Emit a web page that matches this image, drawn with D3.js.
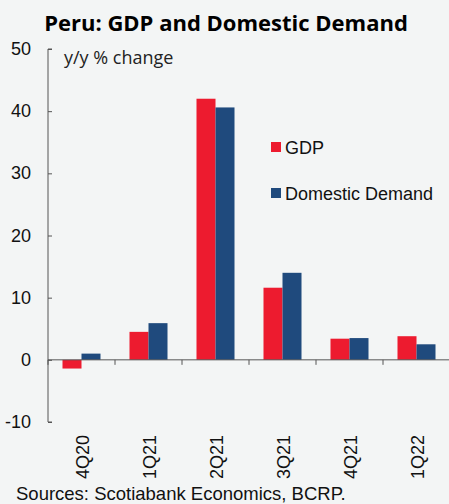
<!DOCTYPE html>
<html>
<head>
<meta charset="utf-8">
<script src="https://cdn.jsdelivr.net/npm/d3@7"></script>
<style>
  body { margin: 0; background: #f3f5f5; }
  svg { display: block; }
</style>
</head>
<body>
<svg id="chart" width="449" height="504"></svg>
<script>
// data
const quarters = ["4Q20", "1Q21", "2Q21", "3Q21", "4Q21", "1Q22"];
const gdp = [-1.4, 4.5, 42.0, 11.6, 3.4, 3.8];
const domestic = [1.0, 5.9, 40.6, 14.0, 3.5, 2.5];
const series_names = ["GDP", "Domestic Demand"];
const y_ticks = [-10, 0, 10, 20, 30, 40, 50];

const colors = ["#ed1b2f", "#1f4a7d"];

const svg = d3.select("#chart");

const x_scale = d3.scaleBand()
    .domain(quarters)
    .range([48, 450]);

const y_scale = d3.scaleLinear()
    .domain([-10, 50])
    .range([422, 49]);

const bar_w = 19;

// title
svg.append("text")
    .attr("x", 226)
    .attr("y", 31)
    .attr("text-anchor", "middle")
    .style("font-family", "Open Sans")
    .style("font-weight", "bold")
    .style("font-size", "22px")
    .text("Peru: GDP and Domestic Demand");

// bars
const series = [gdp, domestic];
series.forEach(function(vals, s) {
    svg.selectAll("rect.s" + s)
        .data(quarters)
        .enter()
        .append("rect")
        .attr("class", "s" + s)
        .attr("x", function(d) { return x_scale(d) + x_scale.bandwidth() / 2 - bar_w + s * bar_w; })
        .attr("y", function(d, i) { return y_scale(Math.max(0, vals[i])); })
        .attr("width", bar_w)
        .attr("height", function(d, i) { return Math.abs(y_scale(vals[i]) - y_scale(0)); })
        .attr("fill", colors[s]);
});

// y axis
const y_axis = svg.append("g")
    .attr("transform", "translate(48,0)")
    .call(d3.axisRight(y_scale).tickValues(y_ticks).tickSize(4).tickFormat(""));
y_axis.select(".domain").attr("stroke", "#555").attr("d", "M4,49H0V422H4");
y_axis.selectAll(".tick line").attr("stroke", "#555");

svg.selectAll("text.ylab")
    .data(y_ticks)
    .enter()
    .append("text")
    .attr("class", "ylab")
    .attr("x", 31)
    .attr("y", function(d) { return y_scale(d) + 6; })
    .attr("text-anchor", "end")
    .style("font-family", "Liberation Sans")
    .style("font-size", "18px")
    .attr("fill", "#111")
    .text(function(d) { return d; });

// zero line with category ticks
svg.append("line")
    .attr("x1", 48).attr("x2", 449)
    .attr("y1", y_scale(0)).attr("y2", y_scale(0))
    .attr("stroke", "#555");

svg.selectAll("line.xtick")
    .data(quarters)
    .enter()
    .append("line")
    .attr("class", "xtick")
    .attr("x1", function(d) { return x_scale(d); })
    .attr("x2", function(d) { return x_scale(d); })
    .attr("y1", y_scale(0))
    .attr("y2", y_scale(0) + 5)
    .attr("stroke", "#555");

// x labels
svg.selectAll("text.xlab")
    .data(quarters)
    .enter()
    .append("text")
    .attr("class", "xlab")
    .attr("transform", function(d) {
        return "translate(" + (x_scale(d) + x_scale.bandwidth() / 2 + 7) + ",435) rotate(-90)";
    })
    .attr("text-anchor", "end")
    .style("font-family", "Liberation Sans")
    .style("font-size", "18px")
    .attr("fill", "#111")
    .text(function(d) { return d; });

// axis title
svg.append("text")
    .attr("x", 64)
    .attr("y", 64)
    .style("font-family", "Open Sans")
    .style("font-size", "18px")
    .attr("fill", "#222")
    .text("y/y % change");

// legend
const legend = svg.selectAll("g.legend")
    .data(series_names)
    .enter()
    .append("g")
    .attr("class", "legend")
    .attr("transform", function(d, i) { return "translate(271," + (142 + i * 46) + ")"; });

legend.append("rect")
    .attr("width", 10)
    .attr("height", 10)
    .attr("fill", function(d, i) { return colors[i]; });

legend.append("text")
    .attr("x", 14)
    .attr("y", 12)
    .style("font-family", "Liberation Sans")
    .style("font-size", "18px")
    .attr("fill", "#111")
    .text(function(d) { return d; });

// source
svg.append("text")
    .attr("x", 16)
    .attr("y", 500)
    .style("font-family", "Liberation Sans")
    .style("font-size", "18.5px")
    .attr("fill", "#111")
    .text("Sources: Scotiabank Economics, BCRP.");
</script>
</body>
</html>
